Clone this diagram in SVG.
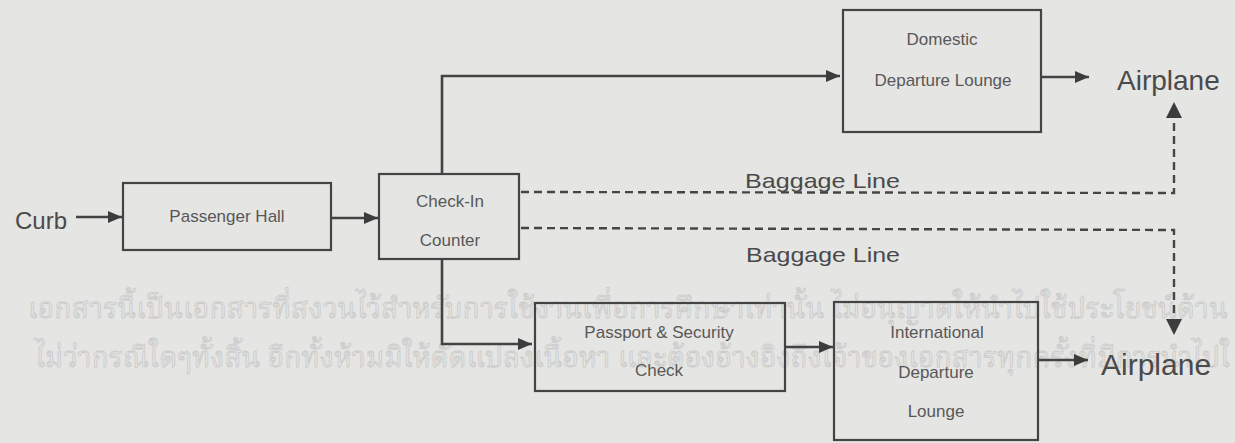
<svg xmlns="http://www.w3.org/2000/svg" width="1235" height="443" viewBox="0 0 1235 443">
<defs>
<marker id="ahb" viewBox="0 0 10 10" refX="10" refY="5" markerWidth="14" markerHeight="14" markerUnits="userSpaceOnUse" orient="auto">
<path d="M0,0.8 L10,5 L0,9.2 z" fill="#3c3c3c"/>
</marker>
<style>
.box{fill:none;stroke:#444;stroke-width:2.2}
.ln{fill:none;stroke:#434343;stroke-width:2.6}
.dsh{fill:none;stroke:#454545;stroke-width:2.4;stroke-dasharray:8,5}
.t{font-family:"Liberation Sans",Arial,sans-serif;fill:#585858;text-anchor:middle;font-size:17px}
.big{font-family:"Liberation Sans",Arial,sans-serif;fill:#4a4a4a}
.bl{font-family:"Liberation Sans",Arial,sans-serif;fill:#4a4a4a;font-size:21px}
.wm{font-family:"Noto Serif Thai","Noto Sans Thai","Noto Sans",sans-serif;font-size:29px;fill:none;stroke:#cacaca;stroke-width:0.8}
</style>
</defs>
<rect width="1235" height="443" fill="#e5e5e3"/>
<g id="watermark">
<text class="wm" x="28" y="318" textLength="1200" lengthAdjust="spacingAndGlyphs">เอกสารนี้เป็นเอกสารที่สงวนไว้สำหรับการใช้งานเพื่อการศึกษาเท่านั้น ไม่อนุญาตให้นำไปใช้ประโยชน์ด้าน</text>
<text class="wm" x="35" y="367" textLength="1195" lengthAdjust="spacingAndGlyphs">ไม่ว่ากรณีใดๆทั้งสิ้น อีกทั้งห้ามมิให้ดัดแปลงเนื้อหา และต้องอ้างอิงถึงเจ้าของเอกสารทุกครั้งที่มีการนำไปใ</text>
</g>
<g id="connectors">
<line class="ln" x1="76" y1="217" x2="122" y2="217" marker-end="url(#ahb)"/>
<line class="ln" x1="331" y1="218" x2="378" y2="218" marker-end="url(#ahb)"/>
<polyline class="ln" points="442,174 442,76 840,76" marker-end="url(#ahb)"/>
<polyline class="ln" points="442,259 442,344 532,344" marker-end="url(#ahb)"/>
<line class="ln" x1="785" y1="347" x2="833" y2="347" marker-end="url(#ahb)"/>
<line class="ln" x1="1041" y1="77" x2="1089" y2="77" marker-end="url(#ahb)"/>
<line class="ln" x1="1038" y1="360" x2="1088" y2="360" marker-end="url(#ahb)"/>
<polyline class="dsh" points="521,192 1174,193 1174,120"/>
<path d="M1166,118 L1174,102 L1182,118 z" fill="#3c3c3c"/>
<polyline class="dsh" points="521,228 1174,230 1174,317"/>
<path d="M1166,319 L1174,335 L1182,319 z" fill="#3c3c3c"/>
<text class="bl" x="745" y="188" textLength="155" lengthAdjust="spacingAndGlyphs">Baggage Line</text>
<text class="bl" x="746" y="262" textLength="154" lengthAdjust="spacingAndGlyphs">Baggage Line</text>
</g>
<g id="curb"><text class="big" x="15" y="229" font-size="24">Curb</text></g>
<g id="passenger-hall">
<rect class="box" x="123" y="183" width="208" height="67"/>
<text class="t" x="227" y="222" font-size="20">Passenger Hall</text>
</g>
<g id="check-in">
<rect class="box" x="379" y="174" width="140" height="85"/>
<text class="t" x="450" y="207">Check-In</text>
<text class="t" x="450" y="246">Counter</text>
</g>
<g id="domestic">
<rect class="box" x="843" y="10" width="198" height="122"/>
<text class="t" x="942" y="45">Domestic</text>
<text class="t" x="943" y="86">Departure Lounge</text>
</g>
<g id="passport">
<rect class="box" x="535" y="303" width="250" height="88"/>
<text class="t" x="659" y="338" font-size="16.4">Passport &amp; Security</text>
<text class="t" x="659" y="376">Check</text>
</g>
<g id="international">
<rect class="box" x="834" y="302" width="204" height="138"/>
<text class="t" x="937" y="338">International</text>
<text class="t" x="936" y="378">Departure</text>
<text class="t" x="936" y="417">Lounge</text>
</g>
<g id="airplane-domestic"><text class="big" x="1117" y="90" font-size="28">Airplane</text></g>
<g id="airplane-international"><text class="big" x="1101" y="375" font-size="30">Airplane</text></g>
</svg>
